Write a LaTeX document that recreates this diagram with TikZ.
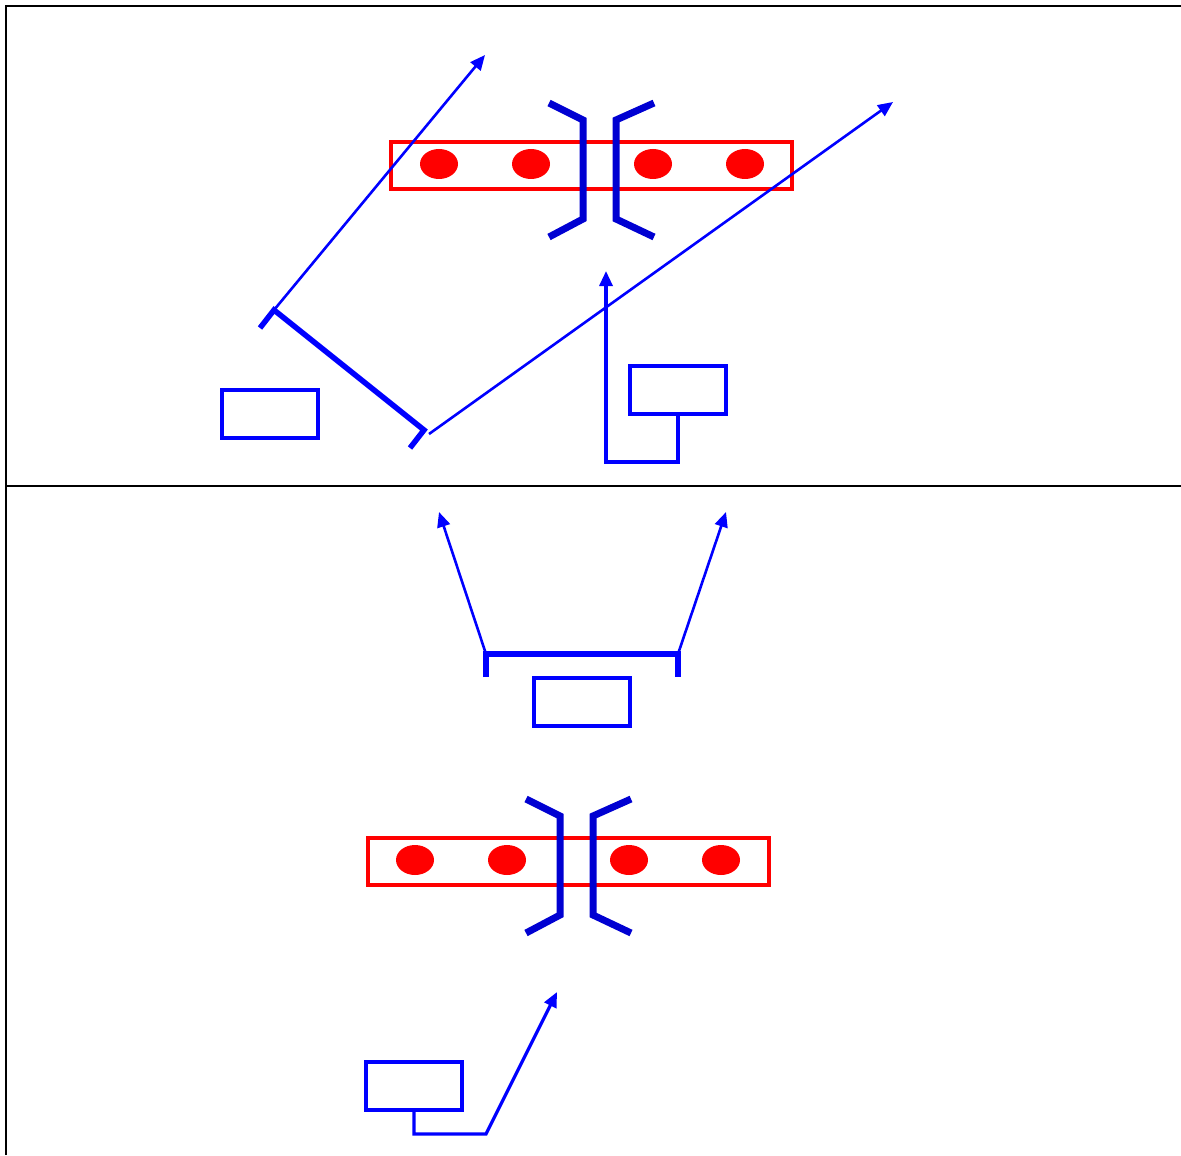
\documentclass[tikz,border=0pt]{standalone}
\usetikzlibrary{positioning, arrows.meta, shapes.geometric}
\definecolor{jawblue}{RGB}{0,0,210}

\begin{document}
\begin{tikzpicture}[x=0.5pt,y=-0.5pt,node distance=46pt,on grid,
    box/.style={draw=blue,line width=1.75pt,minimum width=48pt,minimum height=24pt,inner sep=0pt},
    tube/.style={draw=red,line width=2.25pt,minimum width=200.5pt,minimum height=23.5pt,inner sep=0pt},
    ion/.style={ellipse,fill=red,minimum width=19pt,minimum height=15pt,inner sep=0pt},
    jaw/.style={draw=jawblue,line width=3.5pt},
    wall/.style={draw=blue,line width=2.75pt},
    ray/.style={draw=blue,line width=1.3pt,-{Triangle[length=7.5pt,width=6.5pt]}},
    lead/.style={draw=blue,line width=1.6pt}]
    \useasboundingbox (0,0) rectangle (1181,1155);

    % frame
    \draw[line width=1pt] (6,1155) -- (6,6) -- (1181,6);
    \draw[line width=1pt] (6,486) -- (1181,486);

    % upper panel: trap
    \node[tube] (trapA) at (591.5,165.5) {};
    \node[ion] (a1) at (439,164) {};
    \node[ion] (a2) [right=of a1] {};
    \node[ion] (a3) [right=61pt of a2] {};
    \node[ion] (a4) [right=of a3] {};
    \draw[jaw] (549,103) -- (583,120) -- (583,219) -- (549,237);
    \draw[jaw] (654,103) -- (616,120) -- (616,219) -- (654,237);

    % upper panel: mirror and beams
    \coordinate (mA) at (274,310);
    \coordinate (mB) at (424,430);
    \coordinate (rA) at (485,55);
    \coordinate (rB0) at (429,434);
    \coordinate (rB) at (893,102);
    \draw[wall] (260,328) -- (mA) -- (mB) -- (410,448);
    \draw[ray] (mA) -- (rA);
    \draw[ray] (rB0) -- (rB);

    \node[box] (srcL) at (270,414) {};
    \node[box] (srcR) at (678,390) {};
    \coordinate (bendA) at (606,462);
    \coordinate (tipA) at (606,271);
    \draw[lead,-{Triangle[length=7.5pt,width=6.5pt]}] (srcR.south) |- (bendA) -- (tipA);

    % lower panel: mirror and beams
    \coordinate (mC) at (486,654);
    \coordinate (mD) at (678,654);
    \coordinate (rC) at (439,512);
    \coordinate (rD) at (726,512);
    \draw[wall] (486,677) -- (mC) -- (mD) -- (678,677);
    \draw[ray] (mC) -- (rC);
    \draw[ray] (mD) -- (rD);
    \node[box] (srcM) at (582,702) {};

    % lower panel: trap
    \node[tube] (trapB) at (568.5,861.5) {};
    \node[ion] (b1) at (415,860) {};
    \node[ion] (b2) [right=of b1] {};
    \node[ion] (b3) [right=61pt of b2] {};
    \node[ion] (b4) [right=of b3] {};
    \draw[jaw] (526,799) -- (560,816) -- (560,915) -- (526,933);
    \draw[jaw] (631,799) -- (593,816) -- (593,915) -- (631,933);

    \node[box] (srcB) at (414,1086) {};
    \coordinate (bendB) at (486,1134);
    \coordinate (tipB) at (557,992);
    \draw[lead,-{Triangle[length=7.5pt,width=6.5pt]}] (srcB.south) |- (bendB) -- (tipB);
\end{tikzpicture}
\end{document}
